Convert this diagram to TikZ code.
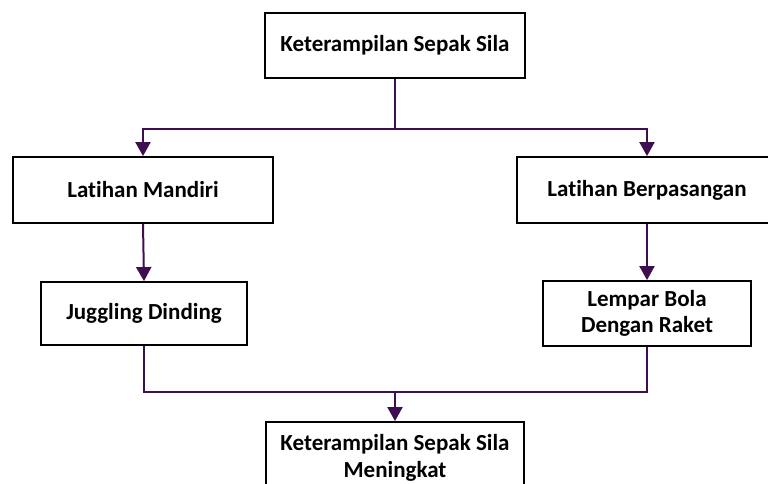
\documentclass[tikz,border=0pt]{standalone}
\usepackage{fontspec}
\setmainfont[Ligatures={NoCommon}]{Carlito}
\usetikzlibrary{arrows.meta}
\definecolor{linepurple}{RGB}{62,14,80}
\tikzset{
  box/.style={draw=black, line width=1.8pt, fill=white, inner sep=0pt, align=center,
    font=\fontsize{23}{26.5}\selectfont\bfseries, text=black},
  conn/.style={draw=linepurple, line width=2pt},
  arr/.style={conn, -{Triangle[width=15pt,length=14pt]}}
}
\begin{document}
\begin{tikzpicture}[x=1pt,y=-1pt]
\clip (0,0) rectangle (768,484);
\fill[white] (0,0) rectangle (768,484);
\node[box, minimum width=260pt, minimum height=65pt] (top) at (395,45.5) {Keterampilan Sepak Sila};
\node[box, minimum width=260pt, minimum height=66pt] (lm) at (143,190) {Latihan Mandiri};
\node[box, minimum width=260pt, minimum height=66pt] (lb) at (647,190) {Latihan Berpasangan};
\node[box, minimum width=206pt, minimum height=63pt] (jd) at (144,313.5) {Juggling Dinding};
\node[box, minimum width=208pt, minimum height=65pt] (lr) at (647,313.5) {Lempar Bola\\Dengan Raket};
\node[box, minimum width=258pt, minimum height=72pt] (bot) at (395,458) {Keterampilan Sepak Sila\\Meningkat};
\coordinate (j1) at (395,129);
\coordinate (j2) at (395,392);
\draw[conn] (top.south) -- (j1);
\draw[arr] (j1) -| (lm.north);
\draw[arr] (j1) -| (lb.north);
\draw[arr] (lm.south) -- (jd.north);
\draw[arr] (lb.south) -- (lr.north);
\draw[conn] (jd.south) |- (j2);
\draw[conn] (lr.south) |- (j2);
\draw[arr] (j2) -- (bot.north);
\end{tikzpicture}
\end{document}
